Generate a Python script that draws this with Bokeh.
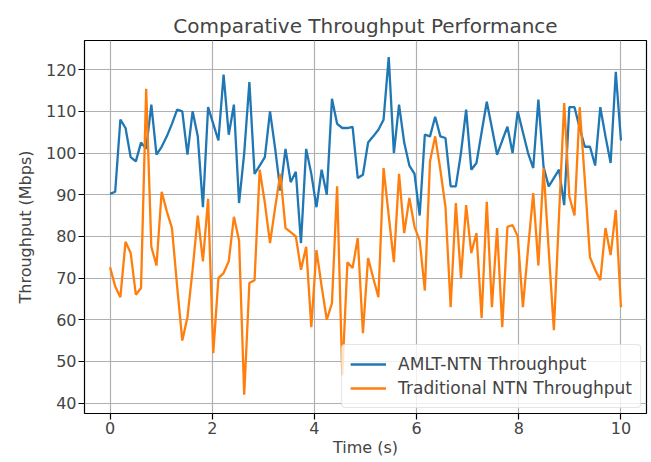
import numpy as np
from bokeh.plotting import figure
from bokeh.models import Range1d, FixedTicker, Legend, LegendItem
from bokeh.embed import file_html
from bokeh.resources import INLINE

# ---- data ----
amlt = [90.2, 90.7, 108, 106, 99, 98, 102.5, 101, 111.6, 99.6,
        101.5, 104, 107, 110.4, 110, 99.6, 110, 104, 87, 111,
        107, 103, 118.8, 104.4, 111.6, 88, 100, 117, 95, 97,
        99, 110, 101, 91, 101, 93, 95.5, 78.4, 101, 95,
        87, 96, 90, 113, 107, 106, 106, 106.3, 94, 94.8,
        102.5, 104, 105.6, 108, 123, 100, 111.6, 102.5, 97, 95,
        85, 104.4, 104, 108.7, 104, 103.6, 92, 92, 100, 110.4,
        96, 97.6, 105, 112.3, 106, 99.6, 103, 106.3, 100, 110,
        105, 100, 96.4, 112.8, 96.7, 92, 94, 96, 87.5, 111,
        111, 106, 101.5, 101.5, 97, 111, 104, 97.6, 119.5, 103]
trad = [72.6, 68, 65.4, 78.7, 76, 66, 67.6, 115.4, 77.5, 73,
        90.7, 86, 82, 68, 55, 60.6, 72, 85, 74, 89,
        52, 70, 71.2, 74, 84.7, 79, 42, 68.8, 69.5, 96,
        88, 78.4, 87, 95, 82, 81, 80, 72, 77.5, 58.2,
        76.7, 68, 60, 64, 92, 46.7, 73.8, 72.4, 79.6, 56.8,
        74.8, 70, 65.4, 96.4, 85, 73.8, 95, 80.8, 89.2, 82.3,
        79, 67, 98, 104, 96, 87, 63, 88, 70, 87.5,
        76, 80.8, 60.4, 88.3, 63, 82, 58.2, 82.3, 82.7, 80,
        63, 77, 90.4, 73, 96.4, 76.7, 57.5, 85, 112, 89.5,
        85, 111, 93.5, 75, 72, 69.5, 82, 75.5, 86.3, 63]
time_s = np.linspace(0, 10, len(amlt))
x_ticks = [0, 2, 4, 6, 8, 10]
y_ticks = [40, 50, 60, 70, 80, 90, 100, 110, 120]
labels = ["AMLT-NTN Throughput", "Traditional NTN Throughput"]
colors = ["#1f77b4", "#ff7f0e"]

FONT = "DejaVu Sans"

p = figure(output_backend="svg", toolbar_location=None,
           x_range=Range1d(-0.5, 10.5), y_range=Range1d(37.5, 127),
           frame_width=562, frame_height=373,
           min_border_left=84, min_border_right=4, min_border_top=40, min_border_bottom=40,
           title="Comparative Throughput Performance")

p.title.text_font = FONT
p.title.text_font_size = "20px"
p.title.text_font_style = "normal"
p.title.align = "center"
p.title.standoff = 6

p.outline_line_color = "black"
p.outline_line_width = 1.2
p.background_fill_color = "white"
p.border_fill_color = "white"

p.xaxis.ticker = FixedTicker(ticks=x_ticks)
p.yaxis.ticker = FixedTicker(ticks=y_ticks)
for ax in (p.xaxis, p.yaxis):
    ax.major_label_text_font = FONT
    ax.major_label_text_font_size = "16px"
    ax.axis_label_text_font = FONT
    ax.axis_label_text_font_size = "16px"
    ax.axis_label_text_font_style = "normal"
    ax.major_tick_out = 6
    ax.major_tick_in = 0
    ax.minor_tick_out = 0
    ax.minor_tick_in = 0
    ax.axis_line_color = None
    ax.major_tick_line_color = "black"
    ax.major_tick_line_width = 1.2
    ax.major_label_standoff = 2
    ax.axis_label_standoff = 2
p.xaxis.axis_label_standoff = 1
p.yaxis.axis_label_standoff = 8
p.xaxis.axis_label = "Time (s)"
p.yaxis.axis_label = "Throughput (Mbps)"

p.xgrid.ticker = FixedTicker(ticks=x_ticks)
p.ygrid.ticker = FixedTicker(ticks=y_ticks)
for g in (p.xgrid, p.ygrid):
    g.grid_line_color = "#b0b0b0"
    g.grid_line_width = 1.2

r1 = p.line(time_s, amlt, line_color=colors[0], line_width=2.3)
r2 = p.line(time_s, trad, line_color=colors[1], line_width=2.3)

legend = Legend(items=[LegendItem(label=labels[0], renderers=[r1]),
                       LegendItem(label=labels[1], renderers=[r2])],
                location="bottom_right")
legend.label_text_font = FONT
legend.label_text_font_size = "17px"
legend.border_line_color = "#cccccc"
legend.border_line_width = 1.2
legend.border_radius = 4
legend.background_fill_alpha = 0.8
legend.glyph_width = 36
legend.label_standoff = 12
legend.spacing = 2
legend.padding = 8
legend.margin = 5
legend.label_height = 22
p.add_layout(legend)

open("out.html", "w").write(file_html(p, INLINE))
